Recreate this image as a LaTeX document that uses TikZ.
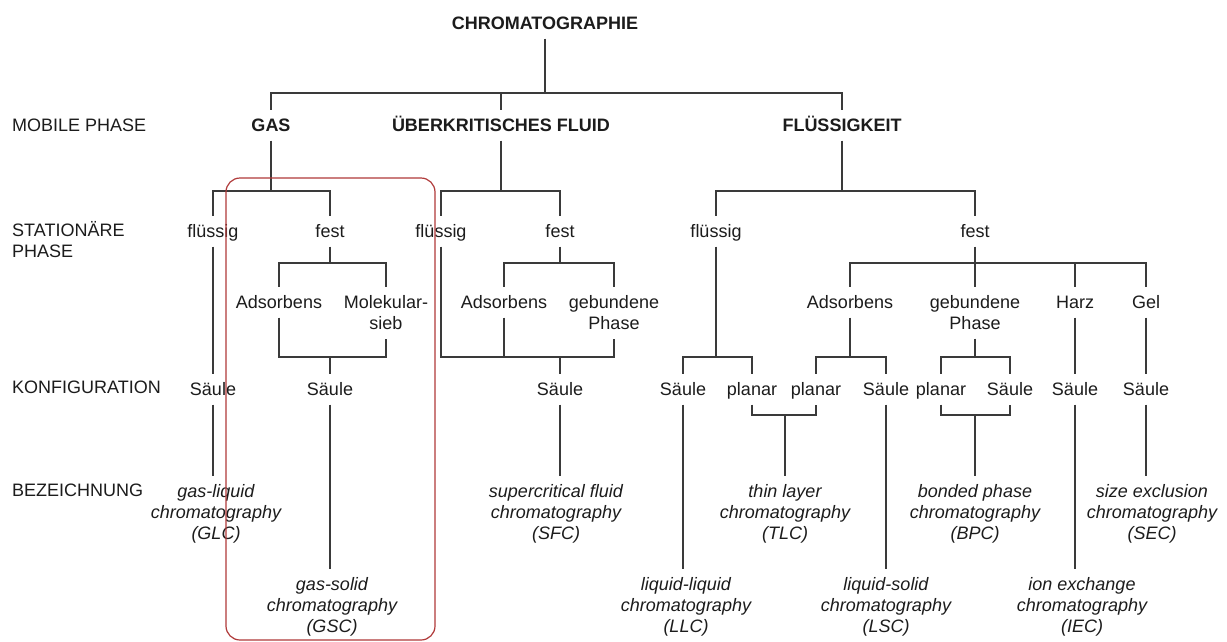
\documentclass[tikz,border=0pt]{standalone}
\usepackage{fontspec}
\setmainfont{Liberation Sans}
\newcommand{\lbfont}{\fontsize{18}{21}\selectfont}
\definecolor{linec}{HTML}{3A3A3A}
\definecolor{txtc}{HTML}{1C1C1C}
\definecolor{boxred}{HTML}{B03A3A}
\begin{document}
\begin{tikzpicture}[x=1pt,y=-1pt,
  ln/.style={draw=linec, line width=1.3pt},
  lab/.style={font=\lbfont, text=txtc, inner xsep=1pt, inner ysep=9pt, outer sep=0pt, anchor=north, align=center},
  one/.style={lab, text height=13pt, text depth=0pt},
  bld/.style={one, font=\lbfont\bfseries},
  nm/.style={lab, font=\lbfont\itshape},
  side/.style={font=\lbfont, text=txtc, inner sep=0pt, anchor=north west, align=left},
  redbox/.style={draw=boxred, line width=1.2pt, rounded corners=14pt}]
\useasboundingbox (0,0) rectangle (1227,641);
\fill[white] (0,0) rectangle (1227,641);

% row labels
\node[side] (mob)  at (12,115.5) {\rule{0pt}{16pt}MOBILE PHASE};
\node[side] (stat) at (12,220.5) {\rule{0pt}{16pt}STATIONÄRE\\PHASE};
\node[side] (konf) at (12,377.5) {\rule{0pt}{16pt}KONFIGURATION};
\node[side] (bez)  at (12,480.5) {\rule{0pt}{16pt}BEZEICHNUNG};

% top
\node[bld] (chrom) at (545,7.5) {CHROMATOGRAPHIE};
\node[bld] (gas)   at (271,109.5) {GAS};
\node[bld] (ueber) at (501,109.5) {ÜBERKRITISCHES FLUID};
\node[bld] (fluess) at (842,109.5) {FLÜSSIGKEIT};

% stationary phase
\node[one] (gfl) at (213,215.5) {flüssig};
\node[one] (gfe) at (330,215.5) {fest};
\node[one] (ufl) at (441,215.5) {flüssig};
\node[one] (ufe) at (560,215.5) {fest};
\node[one] (ffl) at (716,215.5) {flüssig};
\node[one] (ffe) at (975,215.5) {fest};

% sub-types
\node[one] (gads) at (279,286.5) {Adsorbens};
\node[lab] (gmol) at (386,286.5) {\rule{0pt}{13pt}Molekular-\\sieb};
\node[one] (uads) at (504,286.5) {Adsorbens};
\node[lab] (ugeb) at (614,286.5) {\rule{0pt}{13pt}gebundene\\Phase};
\node[one] (fads) at (850,286.5) {Adsorbens};
\node[lab] (fgeb) at (975,286.5) {\rule{0pt}{13pt}gebundene\\Phase};
\node[one] (fharz) at (1075,286.5) {Harz};
\node[one] (fgel) at (1146,286.5) {Gel};

% configuration
\node[one] (gsa1) at (213,373.5) {Säule};
\node[one] (gsa2) at (330,373.5) {Säule};
\node[one] (usa)  at (560,373.5) {Säule};
\node[one] (fsa1) at (683,373.5) {Säule};
\node[one] (fpl1) at (752,373.5) {planar};
\node[one] (fpl2) at (816,373.5) {planar};
\node[one] (fsa2) at (886,373.5) {Säule};
\node[one] (fpl3) at (941,373.5) {planar};
\node[one] (fsa3) at (1010,373.5) {Säule};
\node[one] (fsa4) at (1075,373.5) {Säule};
\node[one] (fsa5) at (1146,373.5) {Säule};

% names
\node[nm] (glc) at (216,475.5) {\rule{0pt}{13pt}gas-liquid\\chromatography\\(GLC)};
\node[nm] (sfc) at (556,475.5) {\rule{0pt}{13pt}supercritical fluid\\chromatography\\(SFC)};
\node[nm] (tlc) at (785,475.5) {\rule{0pt}{13pt}thin layer\\chromatography\\(TLC)};
\node[nm] (bpc) at (975,475.5) {\rule{0pt}{13pt}bonded phase\\chromatography\\(BPC)};
\node[nm] (sec) at (1152,475.5) {\rule{0pt}{13pt}size exclusion\\chromatography\\(SEC)};
\node[nm] (gsc) at (332,568.5) {\rule{0pt}{13pt}gas-solid\\chromatography\\(GSC)};
\node[nm] (llc) at (686,568.5) {\rule{0pt}{13pt}liquid-liquid\\chromatography\\(LLC)};
\node[nm] (lsc) at (886,568.5) {\rule{0pt}{13pt}liquid-solid\\chromatography\\(LSC)};
\node[nm] (iec) at (1082,568.5) {\rule{0pt}{13pt}ion exchange\\chromatography\\(IEC)};

% junctions
\coordinate (j0) at (545,93);
\coordinate (jg) at (271,191);
\coordinate (ju) at (501,191);
\coordinate (jf) at (842,191);
\coordinate (jgf) at (330,263);
\coordinate (jgs) at (330,357);
\coordinate (juf) at (560,263);
\coordinate (jus) at (560,357);
\coordinate (jffl) at (716,357);
\coordinate (jffe) at (975,263);
\coordinate (jfa) at (850,357);
\coordinate (jfg) at (975,357);
\coordinate (jtl) at (785,415);
\coordinate (jbp) at (975,415);

% connectors
\draw[ln] (chrom.south) -- (j0);
\draw[ln] (gas.north) |- (j0) -| (fluess.north);
\draw[ln] (ueber.north) -- (ueber.north |- j0);

\draw[ln] (gas.south) -- (jg);
\draw[ln] (gfl.north) |- (jg) -| (gfe.north);
\draw[ln] (ueber.south) -- (ju);
\draw[ln] (ufl.north) |- (ju) -| (ufe.north);
\draw[ln] (fluess.south) -- (jf);
\draw[ln] (ffl.north) |- (jf) -| (ffe.north);

% gas branch
\draw[ln] (gfe.south) -- (jgf);
\draw[ln] (gads.north) |- (jgf) -| (gmol.north);
\draw[ln] (gads.south) |- (jgs) -| (gmol.south);
\draw[ln] (jgs) -- (gsa2.north);
\draw[ln] (gfl.south) -- (gsa1.north);
\draw[ln] (gsa1.south) -- (gsa1.south |- glc.north);
\draw[ln] (gsa2.south) -- (gsa2.south |- gsc.north);

% supercritical branch
\draw[ln] (ufe.south) -- (juf);
\draw[ln] (uads.north) |- (juf) -| (ugeb.north);
\draw[ln] (ufl.south) |- (jus) -| (ugeb.south);
\draw[ln] (uads.south) -- (uads.south |- jus);
\draw[ln] (jus) -- (usa.north);
\draw[ln] (usa.south) -- (usa.south |- sfc.north);

% liquid branch
\draw[ln] (ffl.south) -- (jffl);
\draw[ln] (fsa1.north) |- (jffl) -| (fpl1.north);
\draw[ln] (ffe.south) -- (jffe);
\draw[ln] (fads.north) |- (jffe) -| (fgel.north);
\draw[ln] (fgeb.north) -- (fgeb.north |- jffe);
\draw[ln] (fharz.north) -- (fharz.north |- jffe);
\draw[ln] (fads.south) -- (jfa);
\draw[ln] (fpl2.north) |- (jfa) -| (fsa2.north);
\draw[ln] (fgeb.south) -- (jfg);
\draw[ln] (fpl3.north) |- (jfg) -| (fsa3.north);
\draw[ln] (fharz.south) -- (fsa4.north);
\draw[ln] (fgel.south) -- (fsa5.north);

\draw[ln] (fsa1.south) -- (fsa1.south |- llc.north);
\draw[ln] (fpl1.south) |- (jtl) -| (fpl2.south);
\draw[ln] (jtl) -- (jtl |- tlc.north);
\draw[ln] (fsa2.south) -- (fsa2.south |- lsc.north);
\draw[ln] (fpl3.south) |- (jbp) -| (fsa3.south);
\draw[ln] (jbp) -- (jbp |- bpc.north);
\draw[ln] (fsa4.south) -- (fsa4.south |- iec.north);
\draw[ln] (fsa5.south) -- (fsa5.south |- sec.north);

% highlight
\draw[redbox] (226,178) rectangle (435,640);
\end{tikzpicture}
\end{document}
